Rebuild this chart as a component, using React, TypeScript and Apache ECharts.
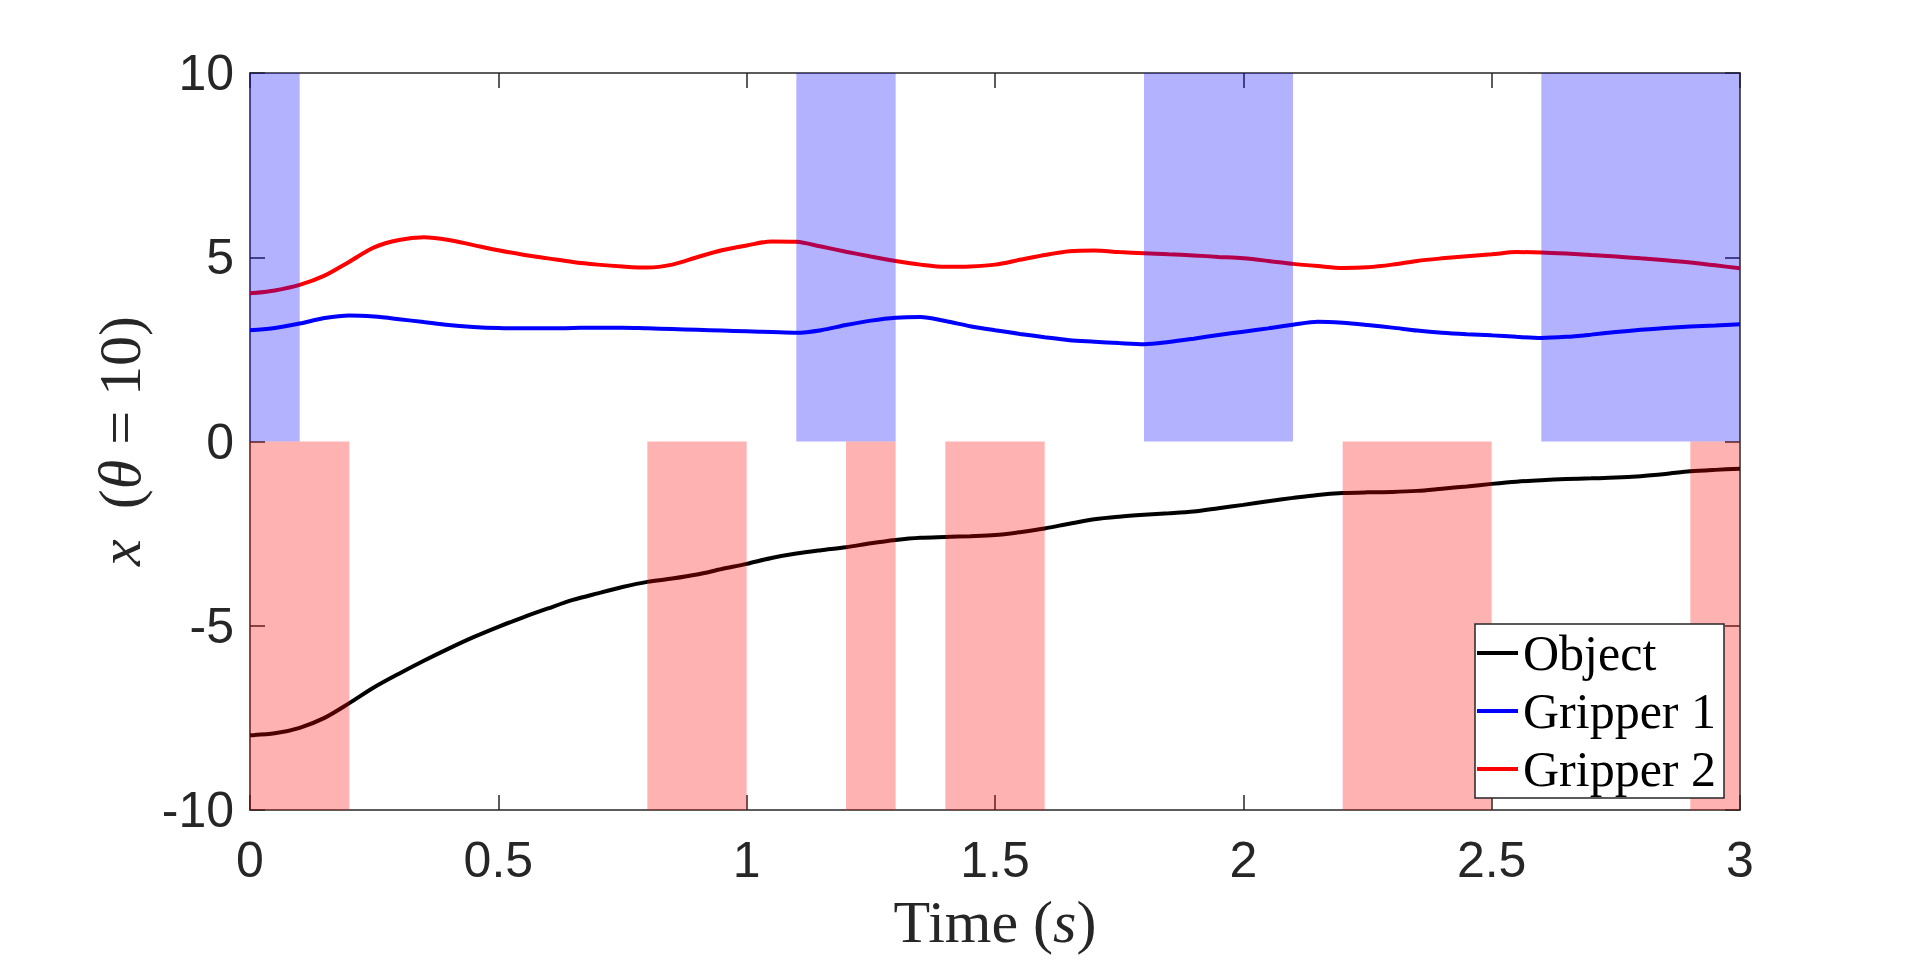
import { useEffect, useRef } from "react";
import * as echarts from "echarts";

const TIME = [
  0, 0.05, 0.1, 0.15, 0.2, 0.25, 0.3, 0.35, 0.4, 0.45, 0.5, 0.55, 0.6, 0.65, 0.7, 0.75, 0.8, 0.85, 0.9, 0.95,
  1.0, 1.05, 1.1, 1.15, 1.2, 1.25, 1.3, 1.35, 1.4, 1.45, 1.5, 1.55, 1.6, 1.65, 1.7, 1.75, 1.8, 1.85, 1.9, 1.95,
  2.0, 2.05, 2.1, 2.15, 2.2, 2.25, 2.3, 2.35, 2.4, 2.45, 2.5, 2.55, 2.6, 2.65, 2.7, 2.75, 2.8, 2.85, 2.9, 2.95, 3.0,
];
const OBJECT = [
  -7.97, -7.92, -7.77, -7.5, -7.1, -6.67, -6.3, -5.95, -5.62, -5.31, -5.03, -4.77, -4.53, -4.3, -4.12, -3.95, -3.81, -3.72, -3.61, -3.46,
  -3.32, -3.16, -3.04, -2.95, -2.87, -2.76, -2.67, -2.61, -2.59, -2.57, -2.54, -2.46, -2.36, -2.23, -2.11, -2.04, -1.99, -1.95, -1.9, -1.81,
  -1.72, -1.62, -1.53, -1.45, -1.4, -1.38, -1.37, -1.34, -1.28, -1.22, -1.15, -1.09, -1.05, -1.02, -1.0, -0.98, -0.94, -0.88, -0.81, -0.77, -0.74,
];
const GRIPPER1 = [
  3.02, 3.08, 3.2, 3.35, 3.42, 3.39, 3.32, 3.24, 3.16, 3.11, 3.08, 3.07, 3.07, 3.08, 3.09, 3.09, 3.07, 3.05, 3.03, 3.01,
  2.99, 2.97, 2.95, 3.02, 3.16, 3.28, 3.36, 3.38, 3.27, 3.13, 3.02, 2.92, 2.83, 2.75, 2.71, 2.67, 2.64, 2.7, 2.79, 2.89,
  2.98, 3.07, 3.17, 3.25, 3.22, 3.16, 3.09, 3.01, 2.95, 2.91, 2.88, 2.84, 2.81, 2.84, 2.9, 2.97, 3.03, 3.08, 3.12, 3.15, 3.18,
];
const GRIPPER2 = [
  4.02, 4.1, 4.25, 4.5, 4.88, 5.27, 5.47, 5.54, 5.47, 5.33, 5.19, 5.07, 4.97, 4.87, 4.8, 4.75, 4.72, 4.8, 5.0, 5.19,
  5.32, 5.43, 5.42, 5.29, 5.15, 5.02, 4.9, 4.8, 4.74, 4.75, 4.8, 4.93, 5.06, 5.16, 5.18, 5.14, 5.11, 5.08, 5.05, 5.01,
  4.97, 4.9, 4.82, 4.76, 4.71, 4.73, 4.8, 4.9, 4.97, 5.03, 5.08, 5.14, 5.13, 5.1, 5.06, 5.02, 4.97, 4.92, 4.86, 4.78, 4.7,
];

const SERIES_NAMES = ["Object", "Gripper 1", "Gripper 2"];
const SERIES_COLORS = ["#000000", "#0000ff", "#ff0000"];

// contact intervals (time spans)
const BLUE_SPANS = [[0, 0.1], [1.1, 1.3], [1.8, 2.1], [2.6, 3.0]];
const RED_SPANS = [[0, 0.2], [0.8, 1.0], [1.2, 1.3], [1.4, 1.6], [2.2, 2.5], [2.9, 3.0]];
const BLUE_BAND = [0, 10];
const RED_BAND = [-10, 0];

const X_MIN = 0, X_MAX = 3, X_STEP = 0.5;
const Y_MIN = -10, Y_MAX = 10, Y_STEP = 5;

const AXIS_COLOR = "#262626";
const SANS = "'Liberation Sans', Arial, Helvetica, sans-serif";
const SERIF = "'Liberation Serif', 'Times New Roman', serif";

function spanSeries(spans: number[][], band: number[], fill: string) {
  return {
    type: "custom",
    z: 10,
    silent: true,
    xAxisIndex: 0,
    yAxisIndex: 0,
    encode: { x: [0, 1], y: [2, 3] },
    data: spans.map(([a, b]) => [a, b, band[0], band[1]]),
    renderItem: (_params: any, api: any) => {
      const p0 = api.coord([api.value(0), api.value(3)]);
      const p1 = api.coord([api.value(1), api.value(2)]);
      return {
        type: "rect",
        shape: { x: p0[0], y: p0[1], width: p1[0] - p0[0], height: p1[1] - p0[1] },
        style: { fill },
      };
    },
  };
}

export default function App() {
  const ref = useRef<HTMLDivElement>(null);
  useEffect(() => {
    if (!ref.current) return;
    const chart = echarts.init(ref.current, undefined, { renderer: "svg" });
    const axisLine = { show: true, onZero: false, lineStyle: { color: AXIS_COLOR, width: 1.5 } };
    const axisTick = { show: true, inside: true, length: 15, lineStyle: { color: AXIS_COLOR, width: 1.5 } };
    const values = [OBJECT, GRIPPER1, GRIPPER2];
    chart.setOption({
      animation: false,
      backgroundColor: "#ffffff",
      grid: { left: 250, top: 73, width: 1490, height: 737, containLabel: false },
      xAxis: [
        {
          type: "value", min: X_MIN, max: X_MAX, interval: X_STEP, position: "bottom",
          axisLine, axisTick, splitLine: { show: false },
          axisLabel: { fontSize: 50, fontFamily: SANS, color: AXIS_COLOR, margin: 25 },
        },
        {
          type: "value", min: X_MIN, max: X_MAX, interval: X_STEP, position: "top",
          axisLine, axisTick, splitLine: { show: false }, axisLabel: { show: false },
        },
      ],
      yAxis: [
        {
          type: "value", min: Y_MIN, max: Y_MAX, interval: Y_STEP, position: "left",
          axisLine, axisTick, splitLine: { show: false },
          axisLabel: { fontSize: 50, fontFamily: SANS, color: AXIS_COLOR, margin: 16 },
        },
        {
          type: "value", min: Y_MIN, max: Y_MAX, interval: Y_STEP, position: "right",
          axisLine, axisTick, splitLine: { show: false }, axisLabel: { show: false },
        },
      ],
      legend: {
        orient: "vertical",
        left: 1475,
        top: 624,
        z: 20,
        padding: [4, 8, 4, 2],
        itemWidth: 41,
        itemHeight: 4,
        itemGap: 8,
        backgroundColor: "#ffffff",
        borderColor: AXIS_COLOR,
        borderWidth: 1.5,
        borderRadius: 0,
        textStyle: { fontFamily: SERIF, fontSize: 50, color: "#000000", lineHeight: 50 },
        data: SERIES_NAMES.map((name) => ({ name, icon: "rect" })),
        selectedMode: false,
      },
      graphic: [
        {
          type: "text",
          x: 995,
          y: 922,
          z: 30,
          style: {
            text: "{r|Time (}{i|s}{r|)}",
            align: "center",
            verticalAlign: "middle",
            fill: AXIS_COLOR,
            rich: {
              r: { fontFamily: SERIF, fontSize: 60, fill: AXIS_COLOR },
              i: { fontFamily: SERIF, fontSize: 60, fontStyle: "italic", fill: AXIS_COLOR },
            },
          },
        },
        {
          type: "text",
          x: 120,
          y: 441,
          rotation: Math.PI / 2,
          z: 30,
          style: {
            text: "{i|x}{r|  (}{i|θ}{r| = 10)}",
            align: "center",
            verticalAlign: "middle",
            fill: AXIS_COLOR,
            rich: {
              r: { fontFamily: SERIF, fontSize: 60, fill: AXIS_COLOR },
              i: { fontFamily: SERIF, fontSize: 60, fontStyle: "italic", fill: AXIS_COLOR },
            },
          },
        },
      ],
      series: [
        ...SERIES_NAMES.map((name, k) => ({
          name,
          type: "line",
          z: 3,
          symbol: "none",
          smooth: 0.3,
          color: SERIES_COLORS[k],
          itemStyle: { color: SERIES_COLORS[k] },
          lineStyle: { color: SERIES_COLORS[k], width: 4 },
          data: TIME.map((t, i) => [t, values[k][i]]),
        })),
        spanSeries(BLUE_SPANS, BLUE_BAND, "rgba(0,0,255,0.3)"),
        spanSeries(RED_SPANS, RED_BAND, "rgba(255,0,0,0.3)"),
      ],
    });
    return () => chart.dispose();
  }, []);
  return (
    <div
      ref={ref}
      style={{ position: "fixed", left: 0, top: 0, width: "1920px", height: "963px", background: "#fff" }}
    />
  );
}
